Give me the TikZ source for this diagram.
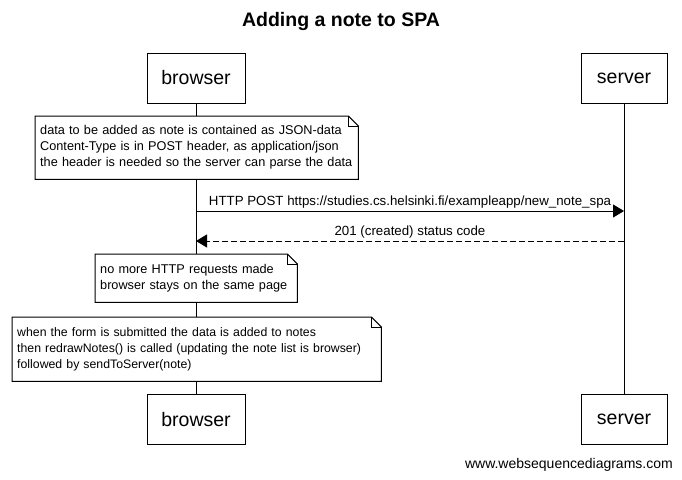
\documentclass[tikz,border=0pt]{standalone}
\usepackage{fontspec}
\setmainfont{Liberation Sans}
\usetikzlibrary{arrows.meta}
\tikzset{
  actor/.style={draw, line width=1pt, fill=white, minimum width=98pt, minimum height=50pt, inner sep=0pt, font=\fontsize{19.5}{22}\selectfont},
  notebox/.style={fill=white, anchor=north west, align=left, inner xsep=5pt, inner ysep=0pt, font=\fontsize{12.7}{16}\selectfont},
  msg/.style={line width=1pt, -{Triangle[length=11pt,width=13pt]}},
  reply/.style={msg, dash pattern=on 6pt off 3pt},
  msglabel/.style={above, inner sep=2pt, font=\fontsize{13.3}{15}\selectfont},
  lifeline/.style={line width=1pt}
}
\newcommand{\notefold}[1]{%
  \draw[line width=1pt] (#1.north west) -- ([xshift=-10pt]#1.north east) -- ([yshift=-10pt]#1.north east) -- (#1.south east) -- (#1.south west) -- cycle;
  \draw[line width=1pt] ([xshift=-10pt]#1.north east) |- ([yshift=-10pt]#1.north east);
}
\begin{document}
\begin{tikzpicture}[x=1pt,y=-1pt]
\useasboundingbox[fill=white] (0,0) rectangle (682,479);
\node[font=\bfseries\fontsize{19.5}{22}\selectfont] (title) at (341,22) {Adding a note to SPA};
\node[actor] (bt) at (196,78) {browser};
\node[actor, minimum width=86pt] (st) at (624,78) {server};
\node[actor] (bb) at (196,419.5) {browser};
\node[actor, minimum width=86pt] (sb) at (624,419.5) {server};
\draw[lifeline] (bt.south) -- (bb.north);
\draw[lifeline] (st.south) -- (sb.north);
\node[notebox, minimum width=323pt, minimum height=63pt, text width=313pt] (n1) at (35,116) {data to be added as note is contained as JSON-data\\Content-Type is in POST header, as application/json\\the header is needed so the server can parse the data};
\notefold{n1}
\coordinate (b1) at (196,211);
\coordinate (s1) at (624,211);
\coordinate (b2) at (196,241);
\coordinate (s2) at (624,241);
\draw[msg] (b1) -- node[msglabel] {HTTP POST https://studies.cs.helsinki.fi/exampleapp/new\_note\_spa} (s1);
\draw[reply] (s2) -- node[msglabel] {201 (created) status code} (b2);
\node[notebox, minimum width=202pt, minimum height=48pt, text width=192pt] (n2) at (95,254) {no more HTTP requests made\\browser stays on the same page};
\notefold{n2}
\node[notebox, minimum width=369pt, minimum height=64pt, text width=359pt, font=\fontsize{12.3}{16}\selectfont] (n3) at (12,317) {when the form is submitted the data is added to notes\\then redrawNotes() is called (updating the note list is browser)\\followed by sendToServer(note)};
\notefold{n3}
\node[anchor=base east, inner sep=0pt, font=\fontsize{14}{16}\selectfont] (wm) at (673,468) {www.websequencediagrams.com};
\end{tikzpicture}
\end{document}
